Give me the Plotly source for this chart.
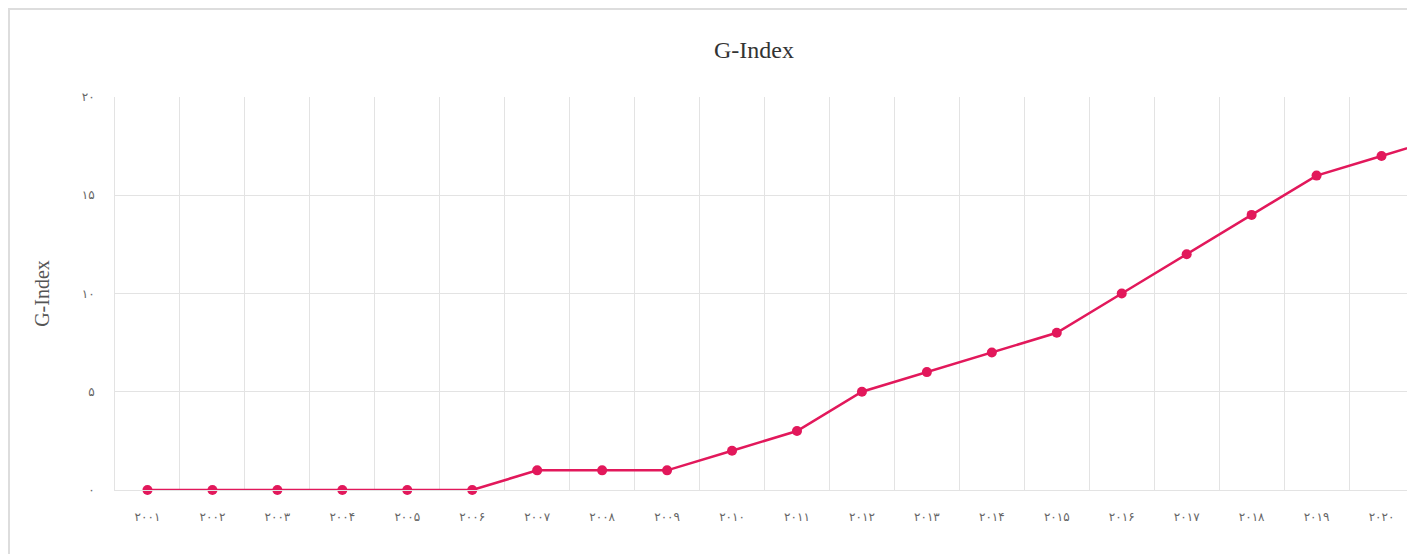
import plotly.graph_objects as go

years = [2001, 2002, 2003, 2004, 2005, 2006, 2007, 2008, 2009, 2010,
         2011, 2012, 2013, 2014, 2015, 2016, 2017, 2018, 2019, 2020, 2021]
g_index = [0, 0, 0, 0, 0, 0, 1, 1, 1, 2, 3, 5, 6, 7, 8, 10, 12, 14, 16, 17, 18]
label_years = [2001, 2002, 2003, 2004, 2005, 2006, 2007, 2008, 2009, 2010,
               2011, 2012, 2013, 2014, 2015, 2016, 2017, 2018, 2019, 2020]
year_labels = ["۲۰۰۱", "۲۰۰۲", "۲۰۰۳", "۲۰۰۴", "۲۰۰۵", "۲۰۰۶", "۲۰۰۷", "۲۰۰۸",
               "۲۰۰۹", "۲۰۱۰", "۲۰۱۱", "۲۰۱۲", "۲۰۱۳", "۲۰۱۴", "۲۰۱۵", "۲۰۱۶",
               "۲۰۱۷", "۲۰۱۸", "۲۰۱۹", "۲۰۲۰"]
y_vals = [0, 5, 10, 15, 20]
y_labels = ["۰", "۵", "۱۰", "۱۵", "۲۰"]

W, H = 1407, 546
L, T, B_plot = 107, 89, 482
step = 64.95
pw = W - L
ph = B_plot - T
x_max = 2000.5 + pw / step

fig = go.Figure()
fig.add_trace(go.Scatter(
    x=years, y=g_index, mode="lines+markers",
    line=dict(color="#E2185B", width=2.5),
    marker=dict(color="#E2185B", size=10),
    cliponaxis=False, showlegend=False,
))

fig.update_layout(
    width=W, height=H,
    margin=dict(l=L, r=0, t=T, b=H - B_plot, pad=0),
    paper_bgcolor="white", plot_bgcolor="white",
    title=dict(text="G-Index", x=(754 - 8) / W, xref="container",
               xanchor="center", y=1 - 42 / H, yanchor="middle",
               font=dict(family="Liberation Serif", size=24, color="#333333")),
    xaxis=dict(
        range=[2000.5, x_max], tickvals=label_years, ticktext=year_labels,
        showgrid=False, zeroline=False,
        showline=True, linecolor="#e3e3e3", linewidth=1,
        ticks="outside", ticklen=16, tickcolor="rgba(0,0,0,0)",
        tickfont=dict(family="DejaVu Sans", size=12, color="#666666"),
        minor=dict(tick0=2000.5, dtick=1, showgrid=True, gridcolor="#e3e3e3", gridwidth=1),
        fixedrange=True,
    ),
    yaxis=dict(
        range=[0, 20], tickvals=y_vals, ticktext=y_labels,
        showgrid=True, gridcolor="#e3e3e3", gridwidth=1, zeroline=False,
        showline=True, linecolor="#e3e3e3", linewidth=1,
        ticks="outside", ticklen=17, tickcolor="rgba(0,0,0,0)",
        tickfont=dict(family="DejaVu Sans", size=12, color="#666666"),
        title=dict(text="G-Index", standoff=26,
                   font=dict(family="Liberation Serif", size=20, color="#555555")),
        fixedrange=True,
    ),
    shapes=[dict(type="rect", xref="paper", yref="paper",
                 x0=(1 - L) / pw, x1=(W + 50 - L) / pw,
                 y0=(B_plot - (H + 50)) / ph, y1=(B_plot - 1) / ph,
                 line=dict(color="#dddddd", width=2), layer="below")],
)

fig.write_html("out.html")
